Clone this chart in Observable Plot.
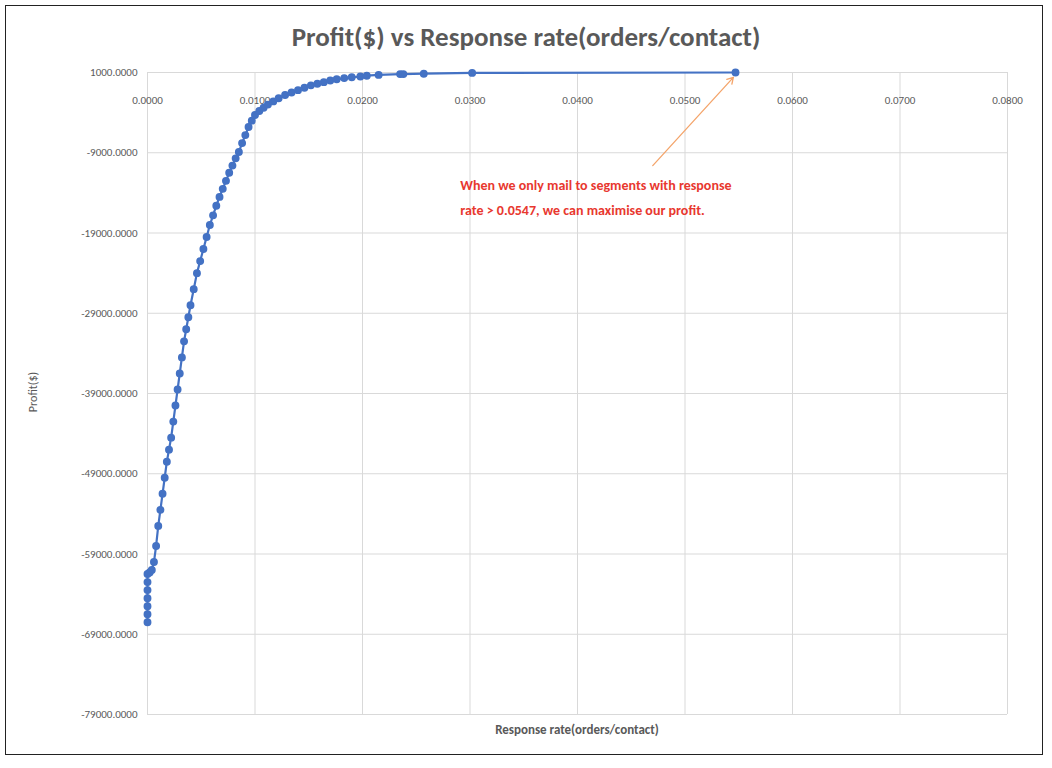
<!DOCTYPE html>
<html><head><meta charset="utf-8">
<script src="https://cdn.jsdelivr.net/npm/d3@7"></script>
<script src="https://cdn.jsdelivr.net/npm/@observablehq/plot@0.6"></script>
<style>
body{margin:0;background:#fff;font-family:Calibri,"Liberation Sans",Arial,sans-serif}
#wrap{position:relative;width:1052px;height:768px}
#frame{position:absolute;left:5px;top:5px;width:1038px;height:750px;border:1.5px solid #222;box-sizing:border-box;pointer-events:none}
#title{position:absolute;left:0;width:1052px;top:20px;text-align:center;font-size:27px;font-weight:bold;color:#595959}
#ylab{position:absolute;left:33px;top:392px;transform:translate(-50%,-50%) rotate(-90deg);font-size:12px;color:#595959;white-space:nowrap}
#xlab{position:absolute;left:577px;top:722px;transform:translateX(-50%);font-size:13px;font-weight:bold;color:#595959;white-space:nowrap}
#chart{position:absolute;left:0;top:0}
</style></head><body>
<div id="wrap"><div id="chart"></div><div id="title">Profit($) vs Response rate(orders/contact)</div>
<div id="ylab">Profit($)</div><div id="xlab">Response rate(orders/contact)</div><div id="frame"></div></div>
<script>
const rate = [0,0,0,0,0,0,0,0.0002,0.0004,0.0006,0.0008,0.0010,0.0012,0.0014,0.0016,0.0018,0.0020,0.0022,0.0024,0.0026,0.0028,0.0030,0.0032,0.0034,0.0036,0.0038,0.0040,0.0043,0.0046,0.0049,0.0052,0.0055,0.0058,0.0061,0.0064,0.0067,0.0070,0.0073,0.0076,0.0079,0.0082,0.0085,0.0088,0.0091,0.0094,0.0097,0.0100,0.0104,0.0108,0.0112,0.0117,0.0122,0.0128,0.0134,0.0140,0.0146,0.0152,0.0158,0.0164,0.0170,0.0176,0.0183,0.0190,0.0198,0.0204,0.0215,0.0235,0.0238,0.0257,0.0302,0.0547];
const profit = [-67500,-66500,-65500,-64500,-63500,-62500,-61500,-61300,-61000,-60000,-58000,-55500,-53500,-51500,-49500,-47500,-46000,-44500,-42500,-40500,-38500,-36500,-34500,-32500,-31000,-29500,-28000,-26000,-24000,-22500,-21000,-19500,-18000,-16800,-15600,-14500,-13500,-12500,-11500,-10600,-9700,-8900,-7800,-6800,-5800,-5000,-4300,-3800,-3400,-3000,-2600,-2200,-1800,-1500,-1200,-900,-600,-400,-200,0,150,300,400,500,600,700,800,800,850,950,1000];
const xTicks = [0,0.01,0.02,0.03,0.04,0.05,0.06,0.07,0.08];
const yTicks = [1000,-9000,-19000,-29000,-39000,-49000,-59000,-69000,-79000];
const note = ["When we only mail to segments with response","rate > 0.0547, we can maximise our profit."];
const data = rate.map((r,i)=>({r,p:profit[i]}));
const blue = "#4472C4";
const svg = Plot.plot({
  width:1052, height:768, marginLeft:147, marginRight:45, marginTop:72, marginBottom:54,
  style:{fontFamily:"Calibri,'Liberation Sans',Arial,sans-serif", background:"transparent"},
  x:{domain:[0,0.08], axis:null},
  y:{domain:[-79000,1000], axis:null},
  marks:[
    Plot.gridX(xTicks,{stroke:"#d9d9d9",strokeOpacity:1}),
    Plot.gridY(yTicks,{stroke:"#d9d9d9",strokeOpacity:1}),
    Plot.text(xTicks,{x:d=>d,y:1000,dy:28,text:d=>d.toFixed(4),fontSize:11,fill:"#595959"}),
    Plot.text(yTicks,{x:0,y:d=>d,dx:-10,textAnchor:"end",text:d=>d.toFixed(4),fontSize:11,fill:"#595959"}),
    Plot.line(data,{x:"r",y:"p",stroke:blue,strokeWidth:2.2}),
    Plot.dot(data,{x:"r",y:"p",r:3.2,fill:blue,stroke:blue}),
    Plot.arrow([{x1:0.0470,y1:-10600,x2:0.0545,y2:400}],{x1:"x1",y1:"y1",x2:"x2",y2:"y2",stroke:"#F4A46A",strokeWidth:1.3,headLength:8}),
    Plot.text(note,{x:0.0291,y:(d,i)=>-13100-i*3150,text:d=>d,textAnchor:"start",fill:"#E8382F",fontWeight:"bold",fontSize:14})
  ]
});
document.getElementById("chart").append(svg);
</script></body></html>
